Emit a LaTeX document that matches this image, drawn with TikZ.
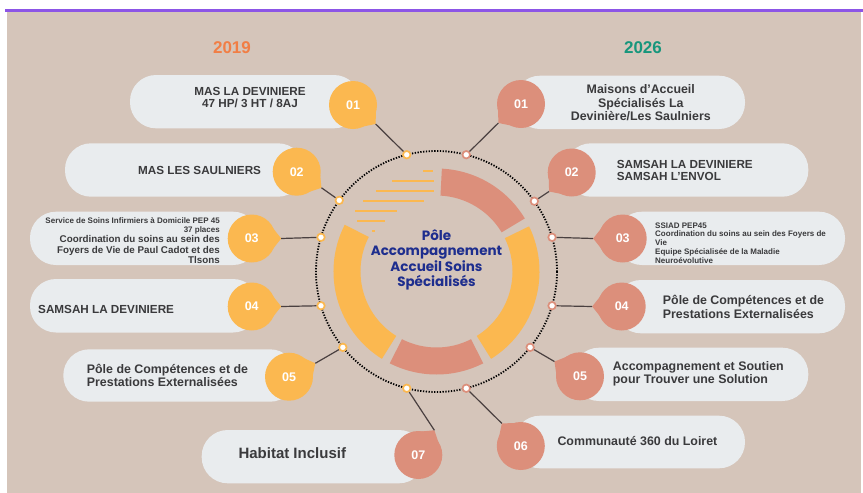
\documentclass[tikz,border=0pt]{standalone}
\usepackage{fontspec}
\setmainfont{Liberation Sans}
\newfontfamily\polefont{Poppins}
\usepackage{xcolor}
\usetikzlibrary{positioning}

\definecolor{fond}{HTML}{D5C5BA}
\definecolor{pillgray}{HTML}{E9ECEE}
\definecolor{ambre}{HTML}{FBB850}
\definecolor{saumon}{HTML}{DC8F7B}
\definecolor{encre}{HTML}{3A3A3C}
\definecolor{bleupole}{HTML}{1E2E8E}
\definecolor{orange19}{HTML}{F17E45}
\definecolor{vert26}{HTML}{17967C}
\definecolor{violet}{HTML}{8C55E6}
\definecolor{trait}{HTML}{4A4040}

\tikzset{
  pill/.style={fill=pillgray, rounded corners=26pt},
  badge/.style={circle, minimum size=48pt, inner sep=0pt, text=white,
    font=\bfseries\fontsize{12.5}{12.5}\selectfont},
  ldot/.style={circle, fill=white, draw=ambre, line width=1.7pt,
    minimum size=7.5pt, inner sep=0pt},
  rdot/.style={ldot, draw=saumon},
  link/.style={trait, line width=1.2pt},
  txt/.style={text=encre, inner sep=0pt, font=\bfseries\fontsize{11.7}{12.6}\selectfont},
  txtb/.style={txt, font=\bfseries\fontsize{12.4}{13.4}\selectfont},
  txts/.style={txt, font=\bfseries\fontsize{8}{8.8}\selectfont},
  year/.style={font=\bfseries\fontsize{17}{17}\selectfont},
}

\begin{document}
\begin{tikzpicture}[x=1pt, y=-1pt]
  \useasboundingbox (0,0) rectangle (863,493);
  % fond
  \fill[white] (0,0) rectangle (863,493);
  \fill[fond] (7,12) rectangle (861,493);
  \fill[violet] (5,8.5) rectangle (863,12);

  \node[year, text=orange19] (y19) at (232,48) {2019};
  \node[year, text=vert26] (y26) at (643,48) {2026};

  % cartouches
  \fill[pill] (130,75) rectangle (360,128.3);
  \fill[pill] (65,143.3) rectangle (304,196.7);
  \fill[pill] (30,211.7) rectangle (259,265);
  \fill[pill] (30,279) rectangle (259,332.5);
  \fill[pill] (63.3,349.3) rectangle (296,401.7);
  \fill[pill] (201.7,430) rectangle (425,483.3);

  \fill[pill] (514,75.7) rectangle (745,129);
  \fill[pill] (565,143.3) rectangle (808.3,196.7);
  \fill[pill] (616,211.7) rectangle (845,265);
  \fill[pill] (615,280) rectangle (845,333.3);
  \fill[pill] (573,347.7) rectangle (808.3,401);
  \fill[pill] (514,415.7) rectangle (745,468.3);

  % anneau central
  \coordinate (c) at (436.5,271.5);
  \foreach \a/\b/\col in {-87/-31/saumon, -26/58/ambre, 63/117/saumon, 122/207/ambre}
    \fill[\col] ([shift={(\a:103)}]c) arc[start angle=\a, end angle=\b, radius=103]
      -- ([shift={(\b:76)}]c) arc[start angle=\b, end angle=\a, radius=76] -- cycle;

  \foreach \yy/\xa/\xb in {170.7/423/433, 181/392/434, 191/376/434, 201/363/424,
                           211/355/397, 221/357/385, 231/372/375}
    \draw[ambre, line width=2.4pt] (\xa,\yy) -- (\xb,\yy);

  \draw[black, line width=1.8pt, dash pattern=on 1.3pt off 1.5pt] (c) circle[radius=120.5];

  \node[align=center, text=bleupole, inner sep=0pt,
    font=\polefont\bfseries\fontsize{13.5}{15.5}\selectfont] (pole) at (436.5,260)
    {Pôle\\Accompagnement\\Accueil Soins\\Spécialisés};

  % points sur le cercle
  \foreach \k/\ang in {1/-104.3, 2/-143.8, 3/-163.5, 4/163.5, 5/141, 7/104.3}
    \node[ldot] (ld\k) at ([shift={(\ang:120.5)}]c) {};
  \foreach \k/\ang in {1/-75.7, 2/-35.7, 3/-16.5, 4/16.5, 5/39, 6/75.7}
    \node[rdot] (rd\k) at ([shift={(\ang:120.5)}]c) {};

  % pastilles 2019
  \foreach \k/\x/\y/\ang/\col in {1/353/105/40/ambre, 2/296.7/171.7/33/ambre,
      3/251.7/238.5/0/ambre, 4/251.7/306.5/0/ambre, 5/289/376.7/-27/ambre,
      7/418.3/455/-57/saumon} {
    \node[badge, fill=\col] (lb\k) at (\x,\y) {0\k};
    \coordinate (lt\k) at ([shift={(\ang:29.5)}]lb\k.center);
    \fill[\col] ([shift={(\ang+28:23.5)}]lb\k.center) -- (lt\k)
      -- ([shift={(\ang-28:23.5)}]lb\k.center) -- cycle;
    \draw[link] (ld\k) -- (lt\k);
  }

  % pastilles 2026
  \foreach \k/\x/\y/\ang in {1/521/104/140, 2/571.7/172.5/140, 3/622.7/238.5/180,
      4/621.7/306.5/180, 5/580/376.3/-150, 6/520.8/446/-130} {
    \node[badge, fill=saumon] (rb\k) at (\x,\y) {0\k};
    \coordinate (rt\k) at ([shift={(\ang:29.5)}]rb\k.center);
    \fill[saumon] ([shift={(\ang+28:23.5)}]rb\k.center) -- (rt\k)
      -- ([shift={(\ang-28:23.5)}]rb\k.center) -- cycle;
    \draw[link] (rd\k) -- (rt\k);
  }

  % textes 2019
  \node[txt, align=center] (tl1) at (250,97.5) {MAS LA DEVINIERE\\47 HP/ 3 HT / 8AJ};
  \node[txt, anchor=west] (tl2) at (138,170) {MAS LES SAULNIERS};
  \node[txts, align=right, anchor=east] (tl3a) at (220,226)
    {Service de Soins Infirmiers à Domicile PEP 45\\37 places};
  \node[txt, font=\bfseries\fontsize{9.8}{10.5}\selectfont, align=right,
    below=1pt of tl3a.south east, anchor=north east] (tl3b)
    {Coordination du soins au sein des\\Foyers de Vie de Paul Cadot et des\\Tlsons};
  \node[txt, anchor=west] (tl4) at (38,309) {SAMSAH LA DEVINIERE};
  \node[txtb, align=left, anchor=west] (tl5) at (86.7,375.5)
    {Pôle de Compétences et de\\Prestations Externalisées};
  \node[txt, font=\bfseries\fontsize{15}{15}\selectfont, anchor=west] (tl7) at (238.3,453.3)
    {Habitat Inclusif};

  % textes 2026
  \node[txtb, align=center] (tr1) at (640.8,102.7)
    {Maisons d’Accueil\\Spécialisés La\\Devinière/Les Saulniers};
  \node[txt, align=left, anchor=west] (tr2) at (616.7,170.3)
    {SAMSAH LA DEVINIERE\\SAMSAH L’ENVOL};
  \node[txts, align=left, anchor=west] (tr3) at (655,243)
    {SSIAD PEP45\\Coordination du soins au sein des Foyers de\\Vie\\Equipe Spécialisée de la Maladie\\Neuroévolutive};
  \node[txtb, align=left, anchor=west] (tr4) at (662.7,307)
    {Pôle de Compétences et de\\Prestations Externalisées};
  \node[txtb, align=left, anchor=west] (tr5) at (612.7,373.7)
    {Accompagnement et Soutien\\pour Trouver une Solution};
  \node[txtb, anchor=west] (tr6) at (557.3,440.7) {Communauté 360 du Loiret};
\end{tikzpicture}
\end{document}
